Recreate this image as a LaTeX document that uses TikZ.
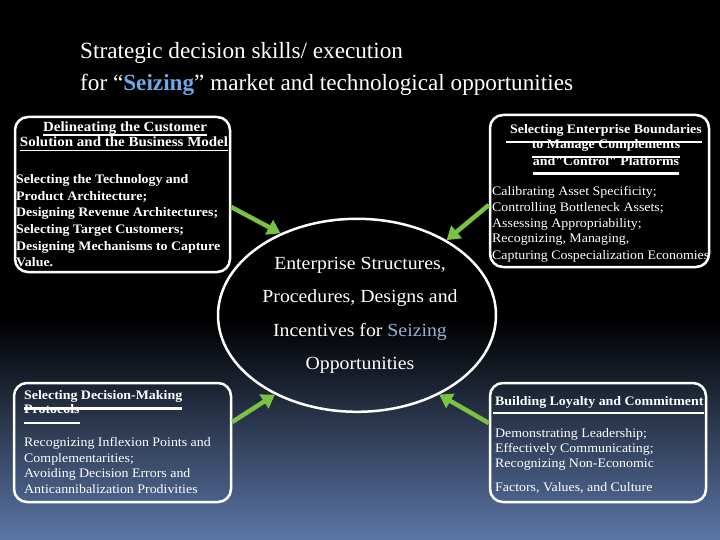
\documentclass[tikz,border=0pt]{standalone}
\usepackage{fontspec}
\setmainfont{Liberation Serif}
\newfontfamily\bx[FakeStretch=1.07]{Liberation Serif}
\usetikzlibrary{arrows.meta,calc,shapes.geometric}
\definecolor{arrgreen}{HTML}{7CC242}
\definecolor{seizeA}{HTML}{6FA6E6}
\definecolor{seizeB}{HTML}{95B3D7}
\definecolor{bgblue}{HTML}{5B76A6}
\begin{document}
\begin{tikzpicture}[x=1pt,y=-1pt,
  box/.style={draw=white, line width=2.5pt, rounded corners=13pt, inner sep=0pt},
  oval/.style={draw=white, line width=2.5pt, ellipse, inner sep=0pt},
  txt/.style={text=white, inner sep=0pt, font=\bx\fontsize{13}{15}\selectfont},
  hd/.style={text=white, inner sep=0pt, font=\bx\bfseries\fontsize{13}{15}\selectfont},
  bigtxt/.style={text=white, inner sep=0pt, font=\bx\fontsize{18.5}{22}\selectfont},
  ttl/.style={text=white, inner sep=0pt, font=\fontsize{23.2}{28}\selectfont},
  arr/.style={draw=arrgreen, line width=4.5pt, -{Triangle[length=13pt,width=16pt]}},
  ul/.style={draw=white, line width=1.5pt},
  bar/.style={draw=white, line width=2.8pt}]
\useasboundingbox (0,0) rectangle (720,540);
\fill[black] (0,0) rectangle (720,540);
\shade[top color=black, bottom color=bgblue] (0,320) rectangle (720,540);

% title
\node[ttl, anchor=base west] (t1) at (80,58.5) {Strategic decision skills/ execution};
\node[ttl, anchor=base west] (t2) at (80,90.5) {for “{\bfseries\color{seizeA}Seizing}” market and technological opportunities};

% boxes
\node[box, minimum width=215pt, minimum height=155pt] (tl) at (122.5,194.5) {};
\node[box, minimum width=219pt, minimum height=152pt] (tr) at (599.5,191) {};
\node[box, minimum width=217pt, minimum height=119pt] (bl) at (122.5,442.5) {};
\node[box, minimum width=216pt, minimum height=119pt] (br) at (598,442.5) {};
\node[oval, minimum width=278pt, minimum height=193pt] (ell) at (357,315.3) {};

% top-left
\node[hd, font=\bx\bfseries\fontsize{14}{16}\selectfont, anchor=base] (tlh1) at (125,131.5) {Delineating the Customer};
\node[hd, font=\bx\bfseries\fontsize{14}{16}\selectfont, anchor=base] (tlh2) at (124,147) {Solution and the Business Model};
\draw[ul] ($(tlh1.base west)+(0,3.5)$) -- ($(tlh1.base east)+(0,3.5)$);
\draw[ul] ($(tlh2.base west)+(0,3.5)$) -- ($(tlh2.base east)+(0,3.5)$);
\node[hd, anchor=base west] (tlb1) at (16,184) {Selecting the Technology and};
\node[hd, anchor=base west] (tlb2) at (16,200.5) {Product Architecture;};
\node[hd, anchor=base west] (tlb3) at (16,217) {Designing Revenue Architectures;};
\node[hd, anchor=base west] (tlb4) at (16,233.5) {Selecting Target Customers;};
\node[hd, anchor=base west] (tlb5) at (16,250) {Designing Mechanisms to Capture};
\node[hd, anchor=base west] (tlb6) at (16,266.5) {Value.};

% top-right
\node[hd, anchor=base] (trh1) at (606,134) {Selecting Enterprise Boundaries};
\node[hd, anchor=base] (trh2) at (606,149) {to Manage Complements};
\node[hd, anchor=base] (trh3) at (606,165.5) {and"Control" Platforms};
\draw[bar] ($(trh1.base west)+(-4,8)$) -- ($(trh1.base east)+(0,8)$);
\draw[bar] ($(trh2.base west)+(0,8)$) -- ($(trh2.base east)+(0,8)$);
\draw[bar] ($(trh3.base west)+(0,8)$) -- ($(trh3.base east)+(0,8)$);
\node[txt, anchor=base west] (trb1) at (492,196) {Calibrating Asset Specificity;};
\node[txt, anchor=base west] (trb2) at (492,211.5) {Controlling Bottleneck Assets;};
\node[txt, anchor=base west] (trb3) at (492,227) {Assessing Appropriability;};
\node[txt, anchor=base west] (trb4) at (492,242.5) {Recognizing, Managing,};
\node[txt, anchor=base west] (trb5) at (492,259) {Capturing Cospecialization Economies};

% bottom-left
\node[hd, anchor=base west] (blh1) at (24,399) {Selecting Decision-Making};
\node[hd, anchor=base west] (blh2) at (24,413) {Protocols};
\draw[bar] ($(blh1.base west)+(0,9.5)$) -- ($(blh1.base east)+(0,9.5)$);
\draw[bar] ($(blh2.base west)+(0,10)$) -- ($(blh2.base east)+(0,10)$);
\node[txt, anchor=base west] (blb1) at (24,446) {Recognizing Inflexion Points and};
\node[txt, anchor=base west] (blb2) at (24,462) {Complementarities;};
\node[txt, anchor=base west] (blb3) at (24,477.5) {Avoiding Decision Errors and};
\node[txt, anchor=base west] (blb4) at (24,493) {Anticannibalization Prodivities};

% bottom-right
\node[hd, anchor=base west] (brh1) at (495,405) {Building Loyalty and Commitment};
\draw[bar] ($(brh1.base west)+(-2,8)$) -- ($(brh1.base east)+(0,8)$);
\node[txt, anchor=base west] (brb1) at (495,437) {Demonstrating Leadership;};
\node[txt, anchor=base west] (brb2) at (495,452) {Effectively Communicating;};
\node[txt, anchor=base west] (brb3) at (495,467) {Recognizing Non-Economic};
\node[txt, anchor=base west] (brb4) at (495,491) {Factors, Values, and  Culture};

% ellipse text
\node[bigtxt, anchor=base] (e1) at (360,269) {Enterprise Structures,};
\node[bigtxt, anchor=base] (e2) at (360,302.5) {Procedures, Designs and};
\node[bigtxt, anchor=base] (e3) at (360,336) {Incentives for {\color{seizeB}Seizing}};
\node[bigtxt, anchor=base] (e4) at (360,369) {Opportunities};

% arrows
\draw[arr] ($(tl.east)+(0,12.5)$) -- (ell.133);
\draw[arr] ($(tr.west)+(0,14)$) -- (ell.40);
\draw[arr] ($(bl.east)+(0,-20.5)$) -- (ell.224);
\draw[arr] ($(br.west)+(0,-19.5)$) -- (ell.316);
\end{tikzpicture}
\end{document}
